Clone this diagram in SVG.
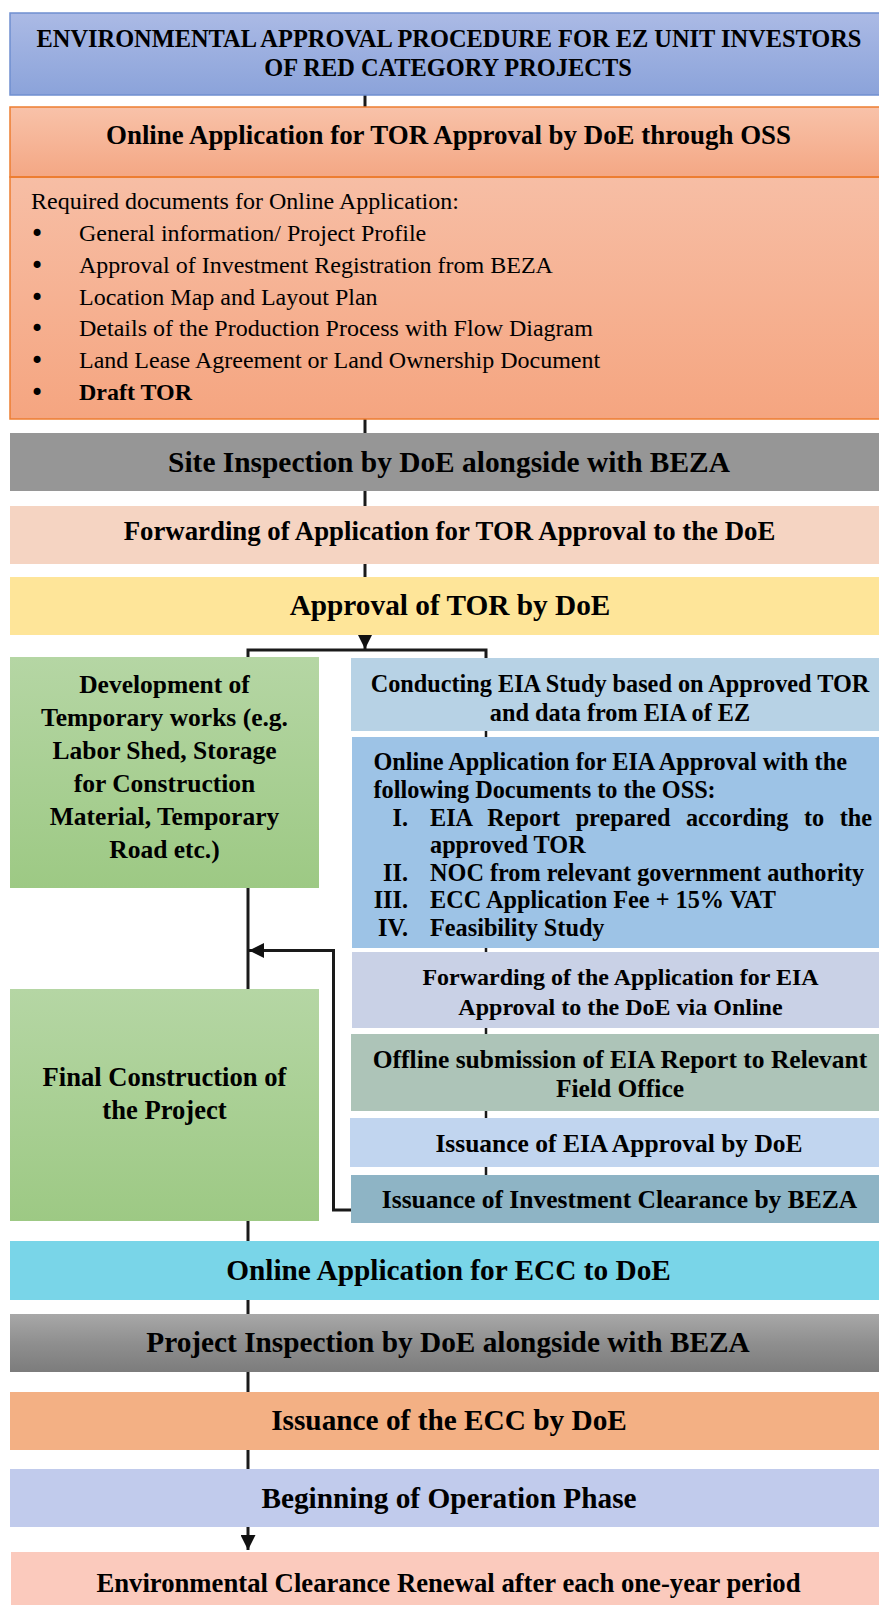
<svg xmlns="http://www.w3.org/2000/svg" width="879" height="1605" viewBox="0 0 879 1605">
<defs>
<linearGradient id="gTitle" x1="0" y1="0" x2="0" y2="1"><stop offset="0" stop-color="#abbae5"/><stop offset="1" stop-color="#8ba3da"/></linearGradient>
<linearGradient id="gHead" x1="0" y1="0" x2="0" y2="1"><stop offset="0" stop-color="#f8c2a9"/><stop offset="1" stop-color="#f4a784"/></linearGradient>
<linearGradient id="gBody" x1="0" y1="0" x2="0" y2="1"><stop offset="0" stop-color="#f7bea5"/><stop offset="1" stop-color="#f5a580"/></linearGradient>
<linearGradient id="gGreen" x1="0" y1="0" x2="0" y2="1"><stop offset="0" stop-color="#b5d6a4"/><stop offset="1" stop-color="#9dc984"/></linearGradient>
<linearGradient id="gGray" x1="0" y1="0" x2="0" y2="1"><stop offset="0" stop-color="#a8a8a8"/><stop offset="0.5" stop-color="#8f8f8f"/><stop offset="1" stop-color="#7c7c7c"/></linearGradient>
<marker id="arr" viewBox="0 0 10 10" refX="10" refY="5" markerWidth="15" markerHeight="15" markerUnits="userSpaceOnUse" orient="auto"><path d="M0,0 L10,5 L0,10 z" fill="#111"/></marker>
</defs>
<style>
text{font-family:"Liberation Serif","Times New Roman",serif;fill:#000}
.b{font-weight:bold}
.c{text-anchor:middle}
.e{text-anchor:end}
.t24{font-size:24px}
.t24b{font-size:24.25px}
.t25{font-size:25.5px}
.t26{font-size:26.8px}
.t29{font-size:29.3px}
.bul{font-family:"DejaVu Sans",sans-serif;font-size:24px}
.con{fill:none;stroke:#1a1a1a;stroke-width:3}
.con2{fill:none;stroke:#1a1a1a;stroke-width:2.5}
</style>

<g id="connectors">
<line class="con" x1="365" y1="94" x2="365" y2="108"/>
<line class="con" x1="365" y1="419" x2="365" y2="434"/>
<line class="con" x1="365" y1="490" x2="365" y2="507"/>
<line class="con" x1="365" y1="563" x2="365" y2="578"/>
<line class="con" x1="365" y1="634" x2="365" y2="649" marker-end="url(#arr)"/>
<path class="con" d="M248,658 V650 H486 V659"/>
<line class="con2" x1="486" y1="730" x2="486" y2="738"/>
<line class="con2" x1="486" y1="947" x2="486" y2="953"/>
<line class="con2" x1="486" y1="1027" x2="486" y2="1035"/>
<line class="con2" x1="486" y1="1110" x2="486" y2="1119"/>
<line class="con2" x1="486" y1="1166" x2="486" y2="1176"/>
<line class="con" x1="248" y1="887" x2="248" y2="990"/>
<path class="con" d="M351,1210 H333.5 V950.5 H249" marker-end="url(#arr)"/>
<line class="con" x1="248" y1="1220" x2="248" y2="1242"/>
<line class="con" x1="248" y1="1299" x2="248" y2="1315"/>
<line class="con" x1="248" y1="1371" x2="248" y2="1393"/>
<line class="con" x1="248" y1="1449" x2="248" y2="1470"/>
<line class="con" x1="248" y1="1526" x2="248" y2="1550" marker-end="url(#arr)"/>
</g>

<g id="title">
<rect x="10" y="13" width="880" height="82" fill="url(#gTitle)" stroke="#6f8fd0" stroke-width="1.5"/>
<text class="b c" x="449" y="47" style="font-size:24.4px">ENVIRONMENTAL APPROVAL PROCEDURE FOR EZ UNIT INVESTORS</text>
<text class="b c" x="448" y="76" style="font-size:24.4px">OF RED CATEGORY PROJECTS</text>
</g>

<g id="online-tor">
<rect x="10" y="107" width="880" height="70" fill="url(#gHead)" stroke="#ed7d31" stroke-width="1.5"/>
<rect x="10" y="177" width="880" height="242" fill="url(#gBody)" stroke="#ed7d31" stroke-width="1.5"/>
<line x1="10" y1="177" x2="879" y2="177" stroke="#ed7d31" stroke-width="2"/>
<text class="b c" x="448.5" y="144" style="font-size:26.9px">Online Application for TOR Approval by DoE through OSS</text>
<text class="t24" x="31" y="209">Required documents for Online Application:</text>
<text class="bul" x="30" y="242">•</text>
<text class="bul" x="30" y="274">•</text>
<text class="bul" x="30" y="306">•</text>
<text class="bul" x="30" y="337">•</text>
<text class="bul" x="30" y="369">•</text>
<text class="bul" x="30" y="401">•</text>
<text class="t24" x="79" y="241">General information/ Project Profile</text>
<text class="t24" x="79" y="273">Approval of Investment Registration from BEZA</text>
<text class="t24" x="79" y="305">Location Map and Layout Plan</text>
<text class="t24" x="79" y="336">Details of the Production Process with Flow Diagram</text>
<text class="t24" x="79" y="368">Land Lease Agreement or Land Ownership Document</text>
<text class="t24 b" x="79" y="400">Draft TOR</text>
</g>

<g id="site-inspection">
<rect x="10" y="433" width="880" height="58" fill="#969696"/>
<text class="b c" x="449" y="472" style="font-size:29.4px">Site Inspection by DoE alongside with BEZA</text>
</g>

<g id="forwarding-tor">
<rect x="10" y="506" width="880" height="58" fill="#f5d4c2"/>
<text class="b c t26" x="449.5" y="540">Forwarding of Application for TOR Approval to the DoE</text>
</g>

<g id="approval-tor">
<rect x="10" y="577" width="880" height="58" fill="#fee599"/>
<text class="b c t29" x="450" y="615">Approval of TOR by DoE</text>
</g>

<g id="temporary-works">
<rect x="10" y="657" width="309" height="231" fill="url(#gGreen)"/>
<g class="b c" style="font-size:25.5px">
<text x="164.5" y="692.5">Development of</text>
<text x="164.5" y="725.5">Temporary works (e.g.</text>
<text x="164.5" y="758.5">Labor Shed, Storage</text>
<text x="164.5" y="791.5">for Construction</text>
<text x="164.5" y="824.5">Material, Temporary</text>
<text x="164.5" y="857.5">Road etc.)</text>
</g>
</g>

<g id="conducting-eia">
<rect x="351" y="658" width="540" height="73" fill="#b7d2e5"/>
<text class="b c t24b" x="620" y="691.5">Conducting EIA Study based on Approved TOR</text>
<text class="b c t24b" x="620" y="721">and data from EIA of EZ</text>
</g>

<g id="online-eia">
<rect x="352" y="737" width="540" height="211" fill="#9dc3e6"/>
<g class="b t24b">
<text x="373.5" y="770">Online Application for EIA Approval with the</text>
<text x="373.5" y="798">following Documents to the OSS:</text>
<text class="e" x="408" y="825.5">I.</text>
<text x="430" y="825.5" word-spacing="9.5">EIA Report prepared according to the</text>
<text x="430" y="853">approved TOR</text>
<text class="e" x="408" y="880.5">II.</text>
<text x="430" y="880.5">NOC from relevant government authority</text>
<text class="e" x="408" y="908">III.</text>
<text x="430" y="908">ECC Application Fee + 15% VAT</text>
<text class="e" x="408" y="935.5">IV.</text>
<text x="430" y="935.5">Feasibility Study</text>
</g>
</g>

<g id="forwarding-eia">
<rect x="352" y="952" width="540" height="76" fill="#c9d1e6"/>
<text class="b c t24" x="620.5" y="985">Forwarding of the Application for EIA</text>
<text class="b c t24" x="620.5" y="1015">Approval to the DoE via Online</text>
</g>

<g id="offline-submission">
<rect x="351" y="1034" width="540" height="77" fill="#adc4b8"/>
<text class="b c t25" x="620" y="1067.5">Offline submission of EIA Report to Relevant</text>
<text class="b c t25" x="620" y="1097">Field Office</text>
</g>

<g id="issuance-eia">
<rect x="350" y="1118" width="540" height="49" fill="#c1d5ef"/>
<text class="b c t25" x="619" y="1152">Issuance of EIA Approval by DoE</text>
</g>

<g id="issuance-investment">
<rect x="351" y="1175" width="540" height="48" fill="#8eb4c5"/>
<text class="b c t25" x="619.5" y="1208">Issuance of Investment Clearance by BEZA</text>
</g>

<g id="final-construction">
<rect x="10" y="989" width="309" height="232" fill="url(#gGreen)"/>
<text class="b c" x="164.5" y="1085.5" style="font-size:26.6px">Final Construction of</text>
<text class="b c" x="164.5" y="1119" style="font-size:26.6px">the Project</text>
</g>

<g id="online-ecc">
<rect x="10" y="1241" width="880" height="59" fill="#79d5e8"/>
<text class="b c t29" x="448.5" y="1280">Online Application for ECC to DoE</text>
</g>

<g id="project-inspection">
<rect x="10" y="1314" width="880" height="58" fill="url(#gGray)"/>
<text class="b c t29" x="448" y="1351.5">Project Inspection by DoE alongside with BEZA</text>
</g>

<g id="issuance-ecc">
<rect x="10" y="1392" width="880" height="58" fill="#f3b084"/>
<text class="b c t29" x="449" y="1430">Issuance of the ECC by DoE</text>
</g>

<g id="operation-phase">
<rect x="10" y="1469" width="880" height="58" fill="#c1cbec"/>
<text class="b c t29" x="449" y="1508">Beginning of Operation Phase</text>
</g>

<g id="clearance-renewal">
<rect x="11" y="1552" width="880" height="60" fill="#fbcabd"/>
<text class="b c" x="448.5" y="1591.5" style="font-size:26.7px">Environmental Clearance Renewal after each one-year period</text>
</g>
</svg>
